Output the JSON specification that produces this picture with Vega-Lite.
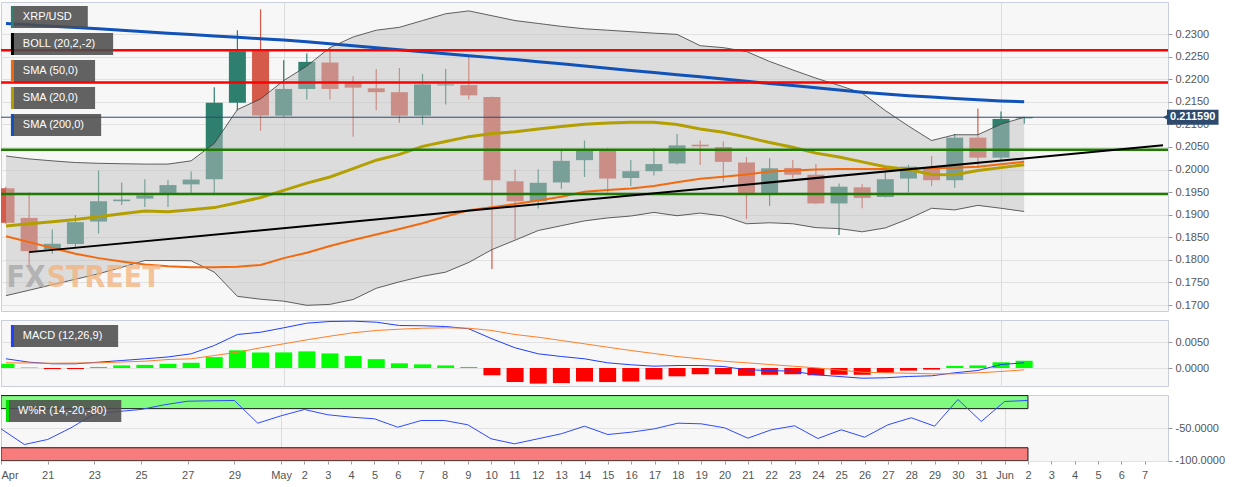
{
  "$schema": "https://vega.github.io/schema/vega-lite/v6.json",
  "padding": {"left": 0, "top": 1, "right": 0, "bottom": 0},
  "background": "white",
  "spacing": 9,
  "bounds": "flush",
  "datasets": {
    "d": [
      {"date":"2020-04-19","open":0.19586,"high":0.1962,"low":0.1880,"close":0.18821,"bbUp":0.2030,"bbLo":0.17208,"sma20":0.18751,"sma50":0.18522,"sma200":0.23236,"hist":0.0008,"macd":0.00177,"signal":0.0010,"wr":-50.9},
      {"date":"2020-04-20","open":0.18929,"high":0.19492,"low":0.17851,"close":0.18193,"bbUp":0.20236,"bbLo":0.17328,"sma20":0.188,"sma50":0.18393,"sma200":0.23206,"hist":0.0001,"macd":0.00112,"signal":0.00096,"wr":-75.0},
      {"date":"2020-04-21","open":0.18228,"high":0.18671,"low":0.18136,"close":0.18357,"bbUp":0.20193,"bbLo":0.1745,"sma20":0.18843,"sma50":0.18264,"sma200":0.23176,"hist":-0.0002,"macd":0.00081,"signal":0.00092,"wr":-67.3},
      {"date":"2020-04-22","open":0.1835,"high":0.18993,"low":0.18264,"close":0.18836,"bbUp":0.20156,"bbLo":0.17572,"sma20":0.18892,"sma50":0.18136,"sma200":0.23146,"hist":-0.0002,"macd":0.00081,"signal":0.00096,"wr":-49.4},
      {"date":"2020-04-23","open":0.18849,"high":0.19979,"low":0.18586,"close":0.19299,"bbUp":0.20139,"bbLo":0.17692,"sma20":0.18957,"sma50":0.18039,"sma200":0.23116,"hist":0.0002,"macd":0.00112,"signal":0.0010,"wr":-27.9},
      {"date":"2020-04-24","open":0.19299,"high":0.19715,"low":0.19214,"close":0.19336,"bbUp":0.20129,"bbLo":0.17836,"sma20":0.19021,"sma50":0.17964,"sma200":0.23086,"hist":0.0005,"macd":0.00144,"signal":0.00115,"wr":-24.4},
      {"date":"2020-04-25","open":0.19357,"high":0.19786,"low":0.19171,"close":0.19428,"bbUp":0.20122,"bbLo":0.17986,"sma20":0.19085,"sma50":0.179,"sma200":0.23054,"hist":0.0006,"macd":0.00177,"signal":0.00131,"wr":-21.3},
      {"date":"2020-04-26","open":0.19479,"high":0.19764,"low":0.19171,"close":0.19657,"bbUp":0.20122,"bbLo":0.17986,"sma20":0.19068,"sma50":0.17857,"sma200":0.23021,"hist":0.0008,"macd":0.00212,"signal":0.00163,"wr":-14.1},
      {"date":"2020-04-27","open":0.19672,"high":0.19957,"low":0.19479,"close":0.19779,"bbUp":0.20193,"bbLo":0.1798,"sma20":0.19111,"sma50":0.17836,"sma200":0.22989,"hist":0.0010,"macd":0.00273,"signal":0.00177,"wr":-8.6},
      {"date":"2020-04-28","open":0.19786,"high":0.21821,"low":0.19479,"close":0.21479,"bbUp":0.20579,"bbLo":0.17729,"sma20":0.19158,"sma50":0.17836,"sma200":0.22957,"hist":0.0021,"macd":0.00433,"signal":0.0024,"wr":-8.0},
      {"date":"2020-04-29","open":0.21479,"high":0.23086,"low":0.21307,"close":0.22621,"bbUp":0.21329,"bbLo":0.17193,"sma20":0.19265,"sma50":0.17847,"sma200":0.22929,"hist":0.0034,"macd":0.00644,"signal":0.00304,"wr":-7.5},
      {"date":"2020-04-30","open":0.22621,"high":0.23551,"low":0.20857,"close":0.212,"bbUp":0.21564,"bbLo":0.17129,"sma20":0.19379,"sma50":0.17889,"sma200":0.22899,"hist":0.0030,"macd":0.00688,"signal":0.00388,"wr":-42.3},
      {"date":"2020-05-01","open":0.21193,"high":0.22421,"low":0.21157,"close":0.21785,"bbUp":0.21971,"bbLo":0.17086,"sma20":0.19539,"sma50":0.18039,"sma200":0.22871,"hist":0.0030,"macd":0.00773,"signal":0.00465,"wr":-31.0},
      {"date":"2020-05-02","open":0.21785,"high":0.22571,"low":0.21549,"close":0.22385,"bbUp":0.22293,"bbLo":0.16994,"sma20":0.197,"sma50":0.18157,"sma200":0.22829,"hist":0.0032,"macd":0.00862,"signal":0.00542,"wr":-21.3},
      {"date":"2020-05-03","open":0.22371,"high":0.22693,"low":0.21549,"close":0.21785,"bbUp":0.227,"bbLo":0.17015,"sma20":0.19835,"sma50":0.18307,"sma200":0.22786,"hist":0.0028,"macd":0.00894,"signal":0.00612,"wr":-29.4},
      {"date":"2020-05-04","open":0.21929,"high":0.22064,"low":0.20729,"close":0.21814,"bbUp":0.22936,"bbLo":0.17122,"sma20":0.20021,"sma50":0.18442,"sma200":0.22743,"hist":0.0023,"macd":0.0090,"signal":0.00677,"wr":-33.1},
      {"date":"2020-05-05","open":0.218,"high":0.22229,"low":0.21314,"close":0.21714,"bbUp":0.23086,"bbLo":0.17371,"sma20":0.20208,"sma50":0.18564,"sma200":0.227,"hist":0.0017,"macd":0.00881,"signal":0.00721,"wr":-35.6},
      {"date":"2020-05-06","open":0.21714,"high":0.2225,"low":0.21035,"close":0.21193,"bbUp":0.2315,"bbLo":0.17514,"sma20":0.20336,"sma50":0.18682,"sma200":0.22653,"hist":0.0009,"macd":0.00817,"signal":0.00746,"wr":-48.5},
      {"date":"2020-05-07","open":0.21193,"high":0.22121,"low":0.20992,"close":0.21886,"bbUp":0.233,"bbLo":0.17637,"sma20":0.20514,"sma50":0.18811,"sma200":0.2261,"hist":0.0007,"macd":0.00812,"signal":0.00765,"wr":-38.2},
      {"date":"2020-05-08","open":0.21864,"high":0.22229,"low":0.21442,"close":0.21886,"bbUp":0.2345,"bbLo":0.17729,"sma20":0.20621,"sma50":0.18961,"sma200":0.22567,"hist":0.0005,"macd":0.00798,"signal":0.00773,"wr":-38.2},
      {"date":"2020-05-09","open":0.21871,"high":0.22514,"low":0.21549,"close":0.21643,"bbUp":0.23514,"bbLo":0.17943,"sma20":0.20729,"sma50":0.191,"sma200":0.22522,"hist":0.0002,"macd":0.00754,"signal":0.00765,"wr":-44.8},
      {"date":"2020-05-10","open":0.21607,"high":0.2162,"low":0.17799,"close":0.19764,"bbUp":0.23407,"bbLo":0.18228,"sma20":0.20799,"sma50":0.19164,"sma200":0.22479,"hist":-0.0014,"macd":0.00562,"signal":0.00721,"wr":-66.3},
      {"date":"2020-05-11","open":0.19743,"high":0.2,"low":0.18464,"close":0.19299,"bbUp":0.233,"bbLo":0.18436,"sma20":0.20836,"sma50":0.19239,"sma200":0.22436,"hist":-0.0027,"macd":0.00388,"signal":0.00644,"wr":-73.9},
      {"date":"2020-05-12","open":0.19299,"high":0.2,"low":0.19136,"close":0.19707,"bbUp":0.23236,"bbLo":0.1865,"sma20":0.209,"sma50":0.19314,"sma200":0.22389,"hist":-0.0030,"macd":0.00273,"signal":0.00592,"wr":-66.3},
      {"date":"2020-05-13","open":0.19715,"high":0.20422,"low":0.19578,"close":0.20193,"bbUp":0.23171,"bbLo":0.18757,"sma20":0.20954,"sma50":0.194,"sma200":0.22342,"hist":-0.0029,"macd":0.00221,"signal":0.00529,"wr":-58.6},
      {"date":"2020-05-14","open":0.20208,"high":0.20643,"low":0.19835,"close":0.20422,"bbUp":0.23118,"bbLo":0.18864,"sma20":0.21001,"sma50":0.19507,"sma200":0.22293,"hist":-0.0026,"macd":0.00177,"signal":0.00465,"wr":-46.9},
      {"date":"2020-05-15","open":0.20422,"high":0.20478,"low":0.19492,"close":0.19801,"bbUp":0.23086,"bbLo":0.18929,"sma20":0.21029,"sma50":0.1955,"sma200":0.22244,"hist":-0.0027,"macd":0.0010,"signal":0.0040,"wr":-59.7},
      {"date":"2020-05-16","open":0.19814,"high":0.20214,"low":0.19636,"close":0.19964,"bbUp":0.23054,"bbLo":0.18971,"sma20":0.2105,"sma50":0.19582,"sma200":0.22196,"hist":-0.0026,"macd":0.00062,"signal":0.00337,"wr":-56.1},
      {"date":"2020-05-17","open":0.19964,"high":0.20478,"low":0.19871,"close":0.20122,"bbUp":0.23021,"bbLo":0.19051,"sma20":0.2105,"sma50":0.19636,"sma200":0.22149,"hist":-0.0022,"macd":0.00035,"signal":0.00279,"wr":-50.9},
      {"date":"2020-05-18","open":0.20135,"high":0.20786,"low":0.2011,"close":0.20536,"bbUp":0.22994,"bbLo":0.18978,"sma20":0.20996,"sma50":0.19721,"sma200":0.221,"hist":-0.0016,"macd":0.00048,"signal":0.00221,"wr":-42.3},
      {"date":"2020-05-19","open":0.20551,"high":0.20643,"low":0.20101,"close":0.20514,"bbUp":0.22743,"bbLo":0.19036,"sma20":0.209,"sma50":0.19796,"sma200":0.22053,"hist":-0.0012,"macd":0.00048,"signal":0.00177,"wr":-43.3},
      {"date":"2020-05-20","open":0.205,"high":0.20621,"low":0.19728,"close":0.20171,"bbUp":0.227,"bbLo":0.18971,"sma20":0.20825,"sma50":0.19839,"sma200":0.22004,"hist":-0.0012,"macd":0.00029,"signal":0.00131,"wr":-49.4},
      {"date":"2020-05-21","open":0.20157,"high":0.20279,"low":0.18907,"close":0.19464,"bbUp":0.22614,"bbLo":0.188,"sma20":0.20718,"sma50":0.19893,"sma200":0.21954,"hist":-0.0015,"macd":-0.00035,"signal":0.0010,"wr":-65.3},
      {"date":"2020-05-22","open":0.19464,"high":0.2025,"low":0.19192,"close":0.20028,"bbUp":0.22394,"bbLo":0.18822,"sma20":0.206,"sma50":0.19957,"sma200":0.21907,"hist":-0.0013,"macd":-0.00048,"signal":0.00067,"wr":-52.5},
      {"date":"2020-05-23","open":0.20036,"high":0.20214,"low":0.19801,"close":0.19886,"bbUp":0.22207,"bbLo":0.188,"sma20":0.20493,"sma50":0.19979,"sma200":0.2186,"hist":-0.0012,"macd":-0.00062,"signal":0.00035,"wr":-46.3},
      {"date":"2020-05-24","open":0.19886,"high":0.20122,"low":0.1924,"close":0.1925,"bbUp":0.22025,"bbLo":0.18714,"sma20":0.20364,"sma50":0.2,"sma200":0.21811,"hist":-0.0014,"macd":-0.00131,"signal":0.00004,"wr":-65.8},
      {"date":"2020-05-25","open":0.1925,"high":0.19693,"low":0.18549,"close":0.19621,"bbUp":0.21864,"bbLo":0.18693,"sma20":0.20279,"sma50":0.20011,"sma200":0.21761,"hist":-0.0013,"macd":-0.00163,"signal":-0.00038,"wr":-52.5},
      {"date":"2020-05-26","open":0.19607,"high":0.19679,"low":0.19143,"close":0.19372,"bbUp":0.21693,"bbLo":0.18622,"sma20":0.20171,"sma50":0.20015,"sma200":0.21714,"hist":-0.0013,"macd":-0.00196,"signal":-0.00081,"wr":-63.8},
      {"date":"2020-05-27","open":0.19393,"high":0.19964,"low":0.1938,"close":0.19786,"bbUp":0.21307,"bbLo":0.18708,"sma20":0.20064,"sma50":0.20015,"sma200":0.21671,"hist":-0.0009,"macd":-0.00188,"signal":-0.00092,"wr":-44.8},
      {"date":"2020-05-28","open":0.19801,"high":0.20107,"low":0.19492,"close":0.20064,"bbUp":0.20964,"bbLo":0.18907,"sma20":0.2,"sma50":0.20021,"sma200":0.21637,"hist":-0.0005,"macd":-0.00163,"signal":-0.0010,"wr":-34.0},
      {"date":"2020-05-29","open":0.2005,"high":0.203,"low":0.19636,"close":0.19764,"bbUp":0.20643,"bbLo":0.19143,"sma20":0.19893,"sma50":0.20032,"sma200":0.21607,"hist":-0.0003,"macd":-0.0015,"signal":-0.00112,"wr":-46.9},
      {"date":"2020-05-30","open":0.19764,"high":0.20786,"low":0.19599,"close":0.20707,"bbUp":0.20771,"bbLo":0.19107,"sma20":0.19887,"sma50":0.20043,"sma200":0.21575,"hist":0.0004,"macd":-0.00092,"signal":-0.00112,"wr":-6.0},
      {"date":"2020-05-31","open":0.20707,"high":0.2135,"low":0.20036,"close":0.20264,"bbUp":0.20771,"bbLo":0.19207,"sma20":0.19979,"sma50":0.20064,"sma200":0.21547,"hist":0.0005,"macd":-0.00048,"signal":-0.00092,"wr":-39.7},
      {"date":"2020-06-01","open":0.20264,"high":0.21286,"low":0.20193,"close":0.21121,"bbUp":0.21007,"bbLo":0.19143,"sma20":0.20043,"sma50":0.20118,"sma200":0.21521,"hist":0.0011,"macd":0.00067,"signal":-0.00067,"wr":-9.0},
      {"date":"2020-06-02","open":0.21136,"high":0.2117,"low":0.21014,"close":0.21159,"bbUp":0.21157,"bbLo":0.19072,"sma20":0.20107,"sma50":0.20171,"sma200":0.215,"hist":0.0014,"macd":0.0010,"signal":-0.00035,"wr":-7.5}
    ],
    "levels": [
      {"level":0.2264,"kind":"resistance"},
      {"level":0.2193,"kind":"resistance"},
      {"level":0.2044,"kind":"support"},
      {"level":0.1946,"kind":"support"}
    ],
    "trend": [
      {"date":"2020-04-20","value":0.18172},
      {"date":"2020-06-08","value":0.20536}
    ],
    "last": [{"date":"2020-06-02","close":0.21159}],
    "zones": [
      {"zone":"overbought","top":0,"bottom":-20},
      {"zone":"oversold","top":-80,"bottom":-100}
    ],
    "legendPrice": [
      {"name":"XRP/USD"},
      {"name":"BOLL (20,2,-2)"},
      {"name":"SMA (50,0)"},
      {"name":"SMA (20,0)"},
      {"name":"SMA (200,0)"}
    ],
    "legendMacd": [{"name":"MACD (12,26,9)"}],
    "legendWr": [{"name":"W%R (14,-20,-80)"}]
  },
  "vconcat": [
    {
      "width": 1167,
      "height": 309,
      "layer": [
        {
          "data": {"name": "d"},
          "layer": [
            {
              "mark": {"type": "rule", "clip": true, "strokeWidth": 1.2},
              "encoding": {
                "x": {"field": "date", "type": "temporal", "scale": {"type": "utc", "domain": [1587254400000, 1591574400000]}, "axis": {"values": [1588291200000, 1590969600000], "tickCount": 100, "labels": false, "ticks": false, "domain": false, "grid": true, "gridColor": "#dcdcdc", "title": null}},
                "y": {"field": "low", "type": "quantitative", "scale": {"domain": [0.16979, 0.236], "nice": false, "zero": false}, "axis": {"orient": "right", "values": [0.17, 0.175, 0.18, 0.185, 0.19, 0.195, 0.2, 0.205, 0.21, 0.215, 0.22, 0.225, 0.23], "tickCount": 100, "format": ".4f", "grid": true, "labelOverlap": false, "title": null}},
                "y2": {"field": "high"},
                "color": {"condition": {"test": "datum.close >= datum.open", "value": "#2e7f6e"}, "value": "#d55a4a"}
              }
            },
            {
              "mark": {"type": "bar", "size": 17, "clip": true, "orient": "vertical"},
              "encoding": {
                "x": {"field": "date", "type": "temporal", "scale": {"type": "utc", "domain": [1587254400000, 1591574400000]}},
                "y": {"field": "open", "type": "quantitative", "scale": {"domain": [0.16979, 0.236], "nice": false, "zero": false}},
                "y2": {"field": "close"},
                "color": {"condition": {"test": "datum.close >= datum.open", "value": "#2e7f6e"}, "value": "#d55a4a"}
              }
            },
            {
              "mark": {"type": "area", "clip": true, "color": "#c2c2c2", "opacity": 0.5},
              "encoding": {
                "x": {"field": "date", "type": "temporal", "scale": {"type": "utc", "domain": [1587254400000, 1591574400000]}},
                "y": {"field": "bbLo", "type": "quantitative", "scale": {"domain": [0.16979, 0.236], "nice": false, "zero": false}},
                "y2": {"field": "bbUp"}
              }
            },
            {
              "mark": {"type": "line", "clip": true, "color": "#3a3a3a", "strokeWidth": 0.8},
              "encoding": {
                "x": {"field": "date", "type": "temporal", "scale": {"type": "utc", "domain": [1587254400000, 1591574400000]}},
                "y": {"field": "bbUp", "type": "quantitative", "scale": {"domain": [0.16979, 0.236], "nice": false, "zero": false}}
              }
            },
            {
              "mark": {"type": "line", "clip": true, "color": "#3a3a3a", "strokeWidth": 0.8},
              "encoding": {
                "x": {"field": "date", "type": "temporal", "scale": {"type": "utc", "domain": [1587254400000, 1591574400000]}},
                "y": {"field": "bbLo", "type": "quantitative", "scale": {"domain": [0.16979, 0.236], "nice": false, "zero": false}}
              }
            },
            {
              "mark": {"type": "line", "clip": true, "color": "#f26a10", "strokeWidth": 2},
              "encoding": {
                "x": {"field": "date", "type": "temporal", "scale": {"type": "utc", "domain": [1587254400000, 1591574400000]}},
                "y": {"field": "sma50", "type": "quantitative", "scale": {"domain": [0.16979, 0.236], "nice": false, "zero": false}}
              }
            },
            {
              "mark": {"type": "line", "clip": true, "color": "#b3a000", "strokeWidth": 3},
              "encoding": {
                "x": {"field": "date", "type": "temporal", "scale": {"type": "utc", "domain": [1587254400000, 1591574400000]}},
                "y": {"field": "sma20", "type": "quantitative", "scale": {"domain": [0.16979, 0.236], "nice": false, "zero": false}}
              }
            },
            {
              "mark": {"type": "line", "clip": true, "color": "#1152b8", "strokeWidth": 3},
              "encoding": {
                "x": {"field": "date", "type": "temporal", "scale": {"type": "utc", "domain": [1587254400000, 1591574400000]}},
                "y": {"field": "sma200", "type": "quantitative", "scale": {"domain": [0.16979, 0.236], "nice": false, "zero": false}}
              }
            },
            {
              "data": {"name": "levels"},
              "mark": {"type": "rule", "clip": true, "strokeWidth": 2.5},
              "encoding": {
                "y": {"field": "level", "type": "quantitative", "scale": {"domain": [0.16979, 0.236], "nice": false, "zero": false}},
                "color": {"field": "kind", "type": "nominal", "scale": {"domain": ["resistance", "support"], "range": ["#ff0000", "#1e7a00"]}, "legend": null}
              }
            },
            {
              "data": {"name": "trend"},
              "mark": {"type": "line", "clip": true, "color": "#000000", "strokeWidth": 2},
              "encoding": {
                "x": {"field": "date", "type": "temporal", "scale": {"type": "utc", "domain": [1587254400000, 1591574400000]}},
                "y": {"field": "value", "type": "quantitative", "scale": {"domain": [0.16979, 0.236], "nice": false, "zero": false}}
              }
            },
            {
              "data": {"name": "last"},
              "mark": {"type": "rule", "clip": true, "color": "#2c4a75", "strokeWidth": 1},
              "encoding": {
                "y": {"field": "close", "type": "quantitative", "scale": {"domain": [0.16979, 0.236], "nice": false, "zero": false}}
              }
            },
            {
              "data": {"values": [{"part": "FX"}]},
              "mark": {"type": "text", "align": "right", "baseline": "alphabetic", "font": "Liberation Sans Narrow, DejaVu Sans Condensed, Liberation Sans", "fontSize": 30, "fontWeight": "bold", "color": "#a6a6a6", "opacity": 0.75},
              "encoding": {
                "x": {"datum": 1587402471960, "type": "temporal", "scale": {"type": "utc", "domain": [1587254400000, 1591574400000]}},
                "y": {"datum": 0.17407, "type": "quantitative", "scale": {"domain": [0.16979, 0.236], "nice": false, "zero": false}},
                "text": {"field": "part", "type": "nominal"}
              }
            },
            {
              "data": {"values": [{"part": "STREET"}]},
              "mark": {"type": "text", "align": "left", "baseline": "alphabetic", "font": "Liberation Sans Narrow, DejaVu Sans Condensed, Liberation Sans", "fontSize": 30, "fontWeight": "bold", "color": "#f3b27a", "opacity": 0.75},
              "encoding": {
                "x": {"datum": 1587406173759, "type": "temporal", "scale": {"type": "utc", "domain": [1587254400000, 1591574400000]}},
                "y": {"datum": 0.17407, "type": "quantitative", "scale": {"domain": [0.16979, 0.236], "nice": false, "zero": false}},
                "text": {"field": "part", "type": "nominal"}
              }
            },
            {
              "data": {"name": "last"},
              "mark": {"type": "point", "shape": "triangle-left", "filled": true, "size": 45, "color": "#2d4a6e", "opacity": 1},
              "encoding": {
                "x": {"datum": 1591585505397, "type": "temporal", "scale": {"type": "utc", "domain": [1587254400000, 1591574400000]}},
                "y": {"field": "close", "type": "quantitative", "scale": {"domain": [0.16979, 0.236], "nice": false, "zero": false}}
              }
            },
            {
              "data": {"name": "last"},
              "mark": {"type": "bar", "orient": "horizontal", "size": 15, "color": "#2d4a6e"},
              "encoding": {
                "x": {"datum": 1591589207196, "type": "temporal", "scale": {"type": "utc", "domain": [1587254400000, 1591574400000]}},
                "x2": {"datum": 1591781700744},
                "y": {"field": "close", "type": "quantitative", "scale": {"domain": [0.16979, 0.236], "nice": false, "zero": false}}
              }
            },
            {
              "data": {"name": "last"},
              "mark": {"type": "text", "align": "center", "baseline": "middle", "font": "Liberation Sans", "fontSize": 11, "fontWeight": "bold", "color": "#ffffff"},
              "encoding": {
                "x": {"datum": 1591685453970, "type": "temporal", "scale": {"type": "utc", "domain": [1587254400000, 1591574400000]}},
                "y": {"field": "close", "type": "quantitative", "scale": {"domain": [0.16979, 0.236], "nice": false, "zero": false}},
                "text": {"field": "close", "type": "quantitative", "format": ".6f"}
              }
            }
          ]
        },
        {
          "data": {"name": "legendPrice"},
          "transform": [
            {"calculate": "11*(0.9*(length(datum.name)-length(replace(datum.name,regexp('[WM%]','g'),'')))+0.7*length(replace(datum.name,regexp('[^A-LN-VX-Z]','g'),''))+0.556*length(replace(datum.name,regexp('[^0-9]','g'),''))+0.3*length(replace(datum.name,regexp('[A-Z0-9%]','g'),'')))", "as": "w"},
            {"calculate": "1587254400000 + 5*3701799", "as": "bx"},
            {"calculate": "1587254400000 + (33 + datum.w)*3701799", "as": "bx2"},
            {"calculate": "1587254400000 + 8*3701799", "as": "sx2"},
            {"calculate": "1587254400000 + 17*3701799", "as": "tx"}
          ],
          "encoding": {
            "y": {"field": "name", "type": "nominal", "scale": {"type": "band", "domain": ["XRP/USD", "BOLL (20,2,-2)", "SMA (50,0)", "SMA (20,0)", "SMA (200,0)"], "range": [1.5, 136.5], "paddingInner": 0.185, "paddingOuter": 0.0925}, "axis": null}
          },
          "layer": [
            {
              "mark": {"type": "bar", "orient": "horizontal", "color": "#4d4d4d", "opacity": 0.88},
              "encoding": {
                "x": {"field": "bx", "type": "temporal", "scale": {"type": "utc", "domain": [1587254400000, 1591574400000]}},
                "x2": {"field": "bx2"}
              }
            },
            {
              "mark": {"type": "bar", "orient": "horizontal"},
              "encoding": {
                "x": {"field": "bx", "type": "temporal", "scale": {"type": "utc", "domain": [1587254400000, 1591574400000]}},
                "x2": {"field": "sx2"},
                "color": {"field": "name", "type": "nominal", "scale": {"domain": ["XRP/USD", "BOLL (20,2,-2)", "SMA (50,0)", "SMA (20,0)", "SMA (200,0)"], "range": ["#2e7f6e", "#000000", "#f26a10", "#b3a000", "#1152b8"]}, "legend": null}
              }
            },
            {
              "mark": {"type": "text", "align": "left", "baseline": "middle", "color": "#ffffff", "font": "Liberation Sans", "fontSize": 11},
              "encoding": {
                "x": {"field": "tx", "type": "temporal", "scale": {"type": "utc", "domain": [1587254400000, 1591574400000]}},
                "text": {"field": "name", "type": "nominal"}
              }
            }
          ]
        }
      ],
      "resolve": {"scale": {"y": "independent", "color": "independent"}}
    },
    {
      "width": 1167,
      "height": 66,
      "layer": [
        {
          "data": {"name": "d"},
          "layer": [
            {
              "mark": {"type": "bar", "size": 17, "clip": true, "orient": "vertical"},
              "encoding": {
                "x": {"field": "date", "type": "temporal", "scale": {"type": "utc", "domain": [1587254400000, 1591574400000]}, "axis": {"values": [1588291200000, 1590969600000], "tickCount": 100, "labels": false, "ticks": false, "domain": false, "grid": true, "gridColor": "#dcdcdc", "title": null}},
                "y": {"field": "hist", "type": "quantitative", "scale": {"domain": [-0.00346, 0.00923], "nice": false, "zero": false}, "axis": {"orient": "right", "values": [0, 0.005], "tickCount": 100, "format": ".4f", "grid": true, "labelOverlap": false, "title": null}},
                "y2": {"datum": 0},
                "color": {"condition": {"test": "datum.hist >= 0", "value": "#00ff00"}, "value": "#ff0000"}
              }
            },
            {
              "mark": {"type": "line", "clip": true, "color": "#1f3fff", "strokeWidth": 1},
              "encoding": {
                "x": {"field": "date", "type": "temporal", "scale": {"type": "utc", "domain": [1587254400000, 1591574400000]}},
                "y": {"field": "macd", "type": "quantitative", "scale": {"domain": [-0.00346, 0.00923], "nice": false, "zero": false}}
              }
            },
            {
              "mark": {"type": "line", "clip": true, "color": "#ff7f27", "strokeWidth": 1},
              "encoding": {
                "x": {"field": "date", "type": "temporal", "scale": {"type": "utc", "domain": [1587254400000, 1591574400000]}},
                "y": {"field": "signal", "type": "quantitative", "scale": {"domain": [-0.00346, 0.00923], "nice": false, "zero": false}}
              }
            }
          ]
        },
        {
          "data": {"name": "legendMacd"},
          "transform": [
            {"calculate": "11*(0.9*(length(datum.name)-length(replace(datum.name,regexp('[WM%]','g'),'')))+0.7*length(replace(datum.name,regexp('[^A-LN-VX-Z]','g'),''))+0.556*length(replace(datum.name,regexp('[^0-9]','g'),''))+0.3*length(replace(datum.name,regexp('[A-Z0-9%]','g'),'')))", "as": "w"},
            {"calculate": "1587254400000 + 5*3701799", "as": "bx"},
            {"calculate": "1587254400000 + (33 + datum.w)*3701799", "as": "bx2"},
            {"calculate": "1587254400000 + 8*3701799", "as": "sx2"},
            {"calculate": "1587254400000 + 17*3701799", "as": "tx"}
          ],
          "encoding": {
            "y": {"field": "name", "type": "nominal", "scale": {"type": "band", "domain": ["MACD (12,26,9)"], "range": [5, 27], "paddingInner": 0, "paddingOuter": 0}, "axis": null}
          },
          "layer": [
            {
              "mark": {"type": "bar", "orient": "horizontal", "color": "#4d4d4d", "opacity": 0.88},
              "encoding": {
                "x": {"field": "bx", "type": "temporal", "scale": {"type": "utc", "domain": [1587254400000, 1591574400000]}},
                "x2": {"field": "bx2"}
              }
            },
            {
              "mark": {"type": "bar", "orient": "horizontal"},
              "encoding": {
                "x": {"field": "bx", "type": "temporal", "scale": {"type": "utc", "domain": [1587254400000, 1591574400000]}},
                "x2": {"field": "sx2"},
                "color": {"field": "name", "type": "nominal", "scale": {"domain": ["MACD (12,26,9)"], "range": ["#1f3fff"]}, "legend": null}
              }
            },
            {
              "mark": {"type": "text", "align": "left", "baseline": "middle", "color": "#ffffff", "font": "Liberation Sans", "fontSize": 11},
              "encoding": {
                "x": {"field": "tx", "type": "temporal", "scale": {"type": "utc", "domain": [1587254400000, 1591574400000]}},
                "text": {"field": "name", "type": "nominal"}
              }
            }
          ]
        }
      ],
      "resolve": {"scale": {"y": "independent", "color": "independent"}}
    },
    {
      "width": 1167,
      "height": 66,
      "layer": [
        {
          "layer": [
            {
              "data": {"name": "zones"},
              "mark": {"type": "rect", "clip": true, "stroke": "#1a1a1a", "strokeWidth": 1},
              "encoding": {
                "x": {"datum": 1587254400000, "type": "temporal", "scale": {"type": "utc", "domain": [1587254400000, 1591574400000]}, "axis": {"values": [1587254400000,1587427200000,1587600000000,1587772800000,1587945600000,1588118400000,1588291200000,1588377600000,1588464000000,1588550400000,1588636800000,1588723200000,1588809600000,1588896000000,1588982400000,1589068800000,1589155200000,1589241600000,1589328000000,1589414400000,1589500800000,1589587200000,1589673600000,1589760000000,1589846400000,1589932800000,1590019200000,1590105600000,1590192000000,1590278400000,1590364800000,1590451200000,1590537600000,1590624000000,1590710400000,1590796800000,1590883200000,1590969600000,1591056000000,1591142400000,1591228800000,1591315200000,1591401600000,1591488000000], "tickCount": 100, "labelExpr": "utcdate(datum.value) == 1 ? utcFormat(datum.value, '%b') : (datum.value < 1587340800000 ? 'Apr' : utcFormat(datum.value, '%-d'))", "labelFlush": true, "labelOverlap": false, "grid": true, "gridColor": {"condition": {"test": "utcdate(datum.value) == 1", "value": "#dcdcdc"}, "value": "transparent"}, "ticks": true, "tickSize": 3, "labelPadding": 5, "domain": false, "title": null}},
                "x2": {"datum": 1591056000000},
                "y": {"field": "top", "type": "quantitative", "scale": {"domain": [-100.3, 0.9], "nice": false, "zero": false}, "axis": {"orient": "right", "values": [-100, -50], "tickCount": 100, "format": ".4f", "grid": true, "labelOverlap": false, "title": null}},
                "y2": {"field": "bottom"},
                "fill": {"field": "zone", "type": "nominal", "scale": {"domain": ["overbought", "oversold"], "range": ["#80fb80", "#f87c7c"]}, "legend": null}
              }
            },
            {
              "data": {"name": "d"},
              "mark": {"type": "line", "clip": true, "color": "#2e4bff", "strokeWidth": 1},
              "encoding": {
                "x": {"field": "date", "type": "temporal", "scale": {"type": "utc", "domain": [1587254400000, 1591574400000]}},
                "y": {"field": "wr", "type": "quantitative", "scale": {"domain": [-100.3, 0.9], "nice": false, "zero": false}}
              }
            }
          ]
        },
        {
          "data": {"name": "legendWr"},
          "transform": [
            {"calculate": "11*(0.9*(length(datum.name)-length(replace(datum.name,regexp('[WM%]','g'),'')))+0.7*length(replace(datum.name,regexp('[^A-LN-VX-Z]','g'),''))+0.556*length(replace(datum.name,regexp('[^0-9]','g'),''))+0.3*length(replace(datum.name,regexp('[A-Z0-9%]','g'),'')))", "as": "w"},
            {"calculate": "1587254400000 + 5*3701799", "as": "bx"},
            {"calculate": "1587254400000 + (33 + datum.w)*3701799", "as": "bx2"},
            {"calculate": "1587254400000 + 8*3701799", "as": "sx2"},
            {"calculate": "1587254400000 + 17*3701799", "as": "tx"}
          ],
          "encoding": {
            "y": {"field": "name", "type": "nominal", "scale": {"type": "band", "domain": ["W%R (14,-20,-80)"], "range": [5, 27], "paddingInner": 0, "paddingOuter": 0}, "axis": null}
          },
          "layer": [
            {
              "mark": {"type": "bar", "orient": "horizontal", "color": "#4d4d4d", "opacity": 0.88},
              "encoding": {
                "x": {"field": "bx", "type": "temporal", "scale": {"type": "utc", "domain": [1587254400000, 1591574400000]}},
                "x2": {"field": "bx2"}
              }
            },
            {
              "mark": {"type": "bar", "orient": "horizontal"},
              "encoding": {
                "x": {"field": "bx", "type": "temporal", "scale": {"type": "utc", "domain": [1587254400000, 1591574400000]}},
                "x2": {"field": "sx2"},
                "color": {"field": "name", "type": "nominal", "scale": {"domain": ["W%R (14,-20,-80)"], "range": ["#00e000"]}, "legend": null}
              }
            },
            {
              "mark": {"type": "text", "align": "left", "baseline": "middle", "color": "#ffffff", "font": "Liberation Sans", "fontSize": 11},
              "encoding": {
                "x": {"field": "tx", "type": "temporal", "scale": {"type": "utc", "domain": [1587254400000, 1591574400000]}},
                "text": {"field": "name", "type": "nominal"}
              }
            }
          ]
        }
      ],
      "resolve": {"scale": {"y": "independent", "color": "independent"}}
    }
  ],
  "config": {
    "view": {"fill": "#f7f7f7", "stroke": "#c8cedc", "strokeWidth": 1},
    "axis": {"labelFont": "Liberation Sans", "labelFontSize": 11, "labelColor": "#555555", "tickColor": "#999999", "tickSize": 4, "labelPadding": 3, "domain": false, "gridColor": "#e1e1e1", "gridWidth": 1, "labelOverlap": false},
    "text": {"font": "Liberation Sans"},
    "locale": {"number": {"decimal": ".", "thousands": ",", "grouping": [3], "currency": ["$", ""], "minus": "-"}}
  }
}
